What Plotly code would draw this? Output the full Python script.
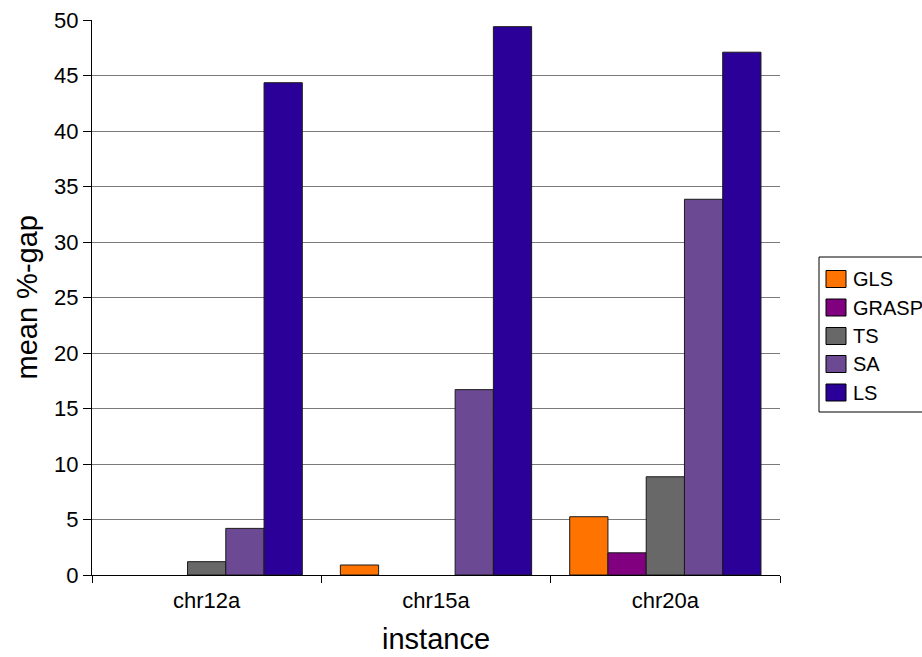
import plotly.graph_objects as go

# instances on the x axis
instances = ["chr12a", "chr15a", "chr20a"]

# mean %-gap per algorithm, one value per instance
gls = [0.0, 0.9, 5.25]
grasp = [0.0, 0.0, 2.0]
ts = [1.2, 0.0, 8.85]
sa = [4.2, 16.7, 33.85]
ls = [44.35, 49.4, 47.1]

series_names = ["GLS", "GRASP", "TS", "SA", "LS"]
series_values = [gls, grasp, ts, sa, ls]
series_colors = ["#FF7300", "#800080", "#686868", "#6B4A93", "#2A0098"]

y_ticks = [0, 5, 10, 15, 20, 25, 30, 35, 40, 45, 50]

W, H = 922, 657
L, R, T, B = 92, 142, 20, 82
FONT = "Liberation Sans, Arial, sans-serif"

fig = go.Figure()
for name, vals, col in zip(series_names, series_values, series_colors):
    # no outline on empty bars, so nothing sits on top of the axis line
    widths = [1 if v > 0 else 0 for v in vals]
    fig.add_trace(go.Bar(
        x=instances, y=vals, name=name,
        marker=dict(color=col, line=dict(color="#1a1a1a", width=widths)),
        showlegend=False,
    ))

# pixel -> paper helpers for the legend box and axis titles
pw, ph = W - L - R, H - T - B
def px_x(px):
    return (px - L) / pw
def px_y(py):
    return (H - B - py) / ph

shapes = [dict(type="rect", xref="paper", yref="paper",
               x0=px_x(819), x1=px_x(960), y0=px_y(412), y1=px_y(257),
               line=dict(color="black", width=1), fillcolor="white", layer="above")]
annotations = []
centers = [279, 307.5, 336, 364, 392.5]
for name, col, cy in zip(series_names, series_colors, centers):
    shapes.append(dict(type="rect", xref="paper", yref="paper",
                       x0=px_x(826), x1=px_x(846), y0=px_y(cy + 8.5), y1=px_y(cy - 8.5),
                       line=dict(color="black", width=1), fillcolor=col, layer="above"))
    annotations.append(dict(xref="paper", yref="paper", x=px_x(851), y=px_y(cy),
                            xanchor="left", yanchor="middle", showarrow=False,
                            text=name, font=dict(family=FONT, size=20, color="black")))

# axis titles
annotations.append(dict(xref="paper", yref="paper", x=0.5, y=px_y(657),
                        xanchor="center", yanchor="bottom", showarrow=False,
                        text="instance", font=dict(family=FONT, size=29, color="black")))
annotations.append(dict(xref="paper", yref="paper", x=px_x(26), y=0.5,
                        xanchor="center", yanchor="middle", showarrow=False, textangle=-90,
                        text="mean %-gap", font=dict(family=FONT, size=29, color="black")))

fig.update_layout(
    width=W, height=H,
    margin=dict(l=L, r=R, t=T, b=B, autoexpand=False),
    paper_bgcolor="white", plot_bgcolor="white",
    barmode="group", bargap=0.166, bargroupgap=0,
    font=dict(family=FONT, color="black"),
    shapes=shapes, annotations=annotations,
    xaxis=dict(
        tickfont=dict(size=22, family=FONT),
        showline=True, linecolor="black", linewidth=1,
        ticks="outside", tickson="boundaries", ticklen=7, tickcolor="black",
        ticklabelstandoff=6,
        showgrid=False, automargin=False,
    ),
    yaxis=dict(
        range=[0, 50], tickvals=y_ticks,
        tickfont=dict(size=22, family=FONT),
        showline=True, linecolor="black", linewidth=1,
        ticks="outside", ticklen=8, tickcolor="black",
        showgrid=True, gridcolor="#7a7a7a", gridwidth=1,
        zeroline=False, automargin=False,
    ),
)

fig.write_html("out.html")
